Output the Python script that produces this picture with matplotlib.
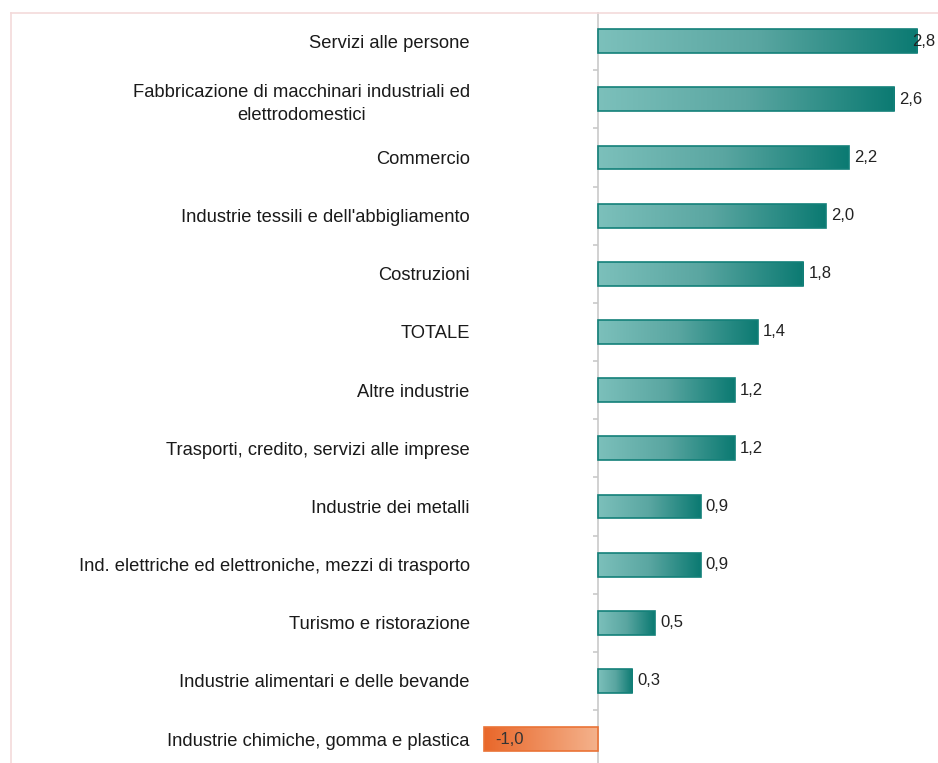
import numpy as np
import matplotlib
matplotlib.use("Agg")
import matplotlib.pyplot as plt
from matplotlib.colors import LinearSegmentedColormap
from matplotlib.lines import Line2D

settori = [
    "Servizi alle persone",
    "Fabbricazione di macchinari industriali ed\nelettrodomestici",
    "Commercio",
    "Industrie tessili e dell'abbigliamento",
    "Costruzioni",
    "TOTALE",
    "Altre industrie",
    "Trasporti, credito, servizi alle imprese",
    "Industrie dei metalli",
    "Ind. elettriche ed elettroniche, mezzi di trasporto",
    "Turismo e ristorazione",
    "Industrie alimentari e delle bevande",
    "Industrie chimiche, gomma e plastica",
]
valori = [2.8, 2.6, 2.2, 2.0, 1.8, 1.4, 1.2, 1.2, 0.9, 0.9, 0.5, 0.3, -1.0]

plt.rcParams['font.family'] = ['Liberation Sans', 'DejaVu Sans']

W, H = 938, 763
fig = plt.figure(figsize=(W / 100, H / 100), dpi=100)

# pixel layout: zero line at x=598, 114 px per unit, 58.17 px per row
x0px, scale = 598, 114.0
left_px, right_px = 478, 938
top_px, row = 12, 58.17
n = len(valori)
ax_h = n * row
ax = fig.add_axes([left_px / W, (H - top_px - ax_h) / H,
                   (right_px - left_px) / W, ax_h / H])
xmin = (left_px - x0px) / scale
xmax = (right_px - x0px) / scale

teal = LinearSegmentedColormap.from_list("teal", ["#7cc0bb", "#5aa6a1", "#0b7a72"])
orange = LinearSegmentedColormap.from_list("orange", ["#e9672a", "#f4b28c"])
grad = np.linspace(0, 1, 256).reshape(1, -1)

y = np.arange(n)
bh = 0.41
bars = ax.barh(y, valori, height=bh, color="none", zorder=3)
for b, v in zip(bars, valori):
    pos = v >= 0
    b.set_edgecolor("#138079" if pos else "#ea7336")
    b.set_linewidth(1.2)
    xa, xb = sorted([b.get_x(), b.get_x() + b.get_width()])
    by = b.get_y()
    im = ax.imshow(grad, cmap=teal if pos else orange, aspect="auto",
                   extent=(xa, xb, by + bh, by), zorder=2)
    im.set_clip_path(b)

# value labels with comma decimals
for yi, v in zip(y, valori):
    txt = f"{v:.1f}".replace(".", ",")
    if v >= 0:
        xt = min(v + 0.045, xmax - 0.225)
        ax.text(xt, yi, txt, ha="left", va="center", fontsize=12, color="#222222", zorder=4)
    else:
        ax.text(v + 0.1, yi, txt, ha="left", va="center", fontsize=12, color="#333333", zorder=4)

# zero axis with small ticks between rows
ax.axvline(0, color="#c9c9c9", lw=1.2, zorder=1)
ax.hlines(np.arange(n - 1) + 0.5, -0.04, 0, color="#c9c9c9", lw=1.2, zorder=1)

ax.set_yticks(y)
ax.set_yticklabels(settori, fontsize=13.2, color="#1a1a1a",
                   multialignment="center", linespacing=1.45)
ax.tick_params(axis="y", length=0, pad=6)
ax.set_xticks([])
for s in ax.spines.values():
    s.set_visible(False)
ax.set_xlim(xmin, xmax)
ax.set_ylim(n - 0.5, -0.5)

# light frame along top and left
fig.add_artist(Line2D([11 / W, 1], [1 - 13 / H, 1 - 13 / H], color="#f3dada", lw=1.2))
fig.add_artist(Line2D([11 / W, 11 / W], [0, 1 - 13 / H], color="#f3dada", lw=1.2))

fig.savefig("out.png", dpi=100)
